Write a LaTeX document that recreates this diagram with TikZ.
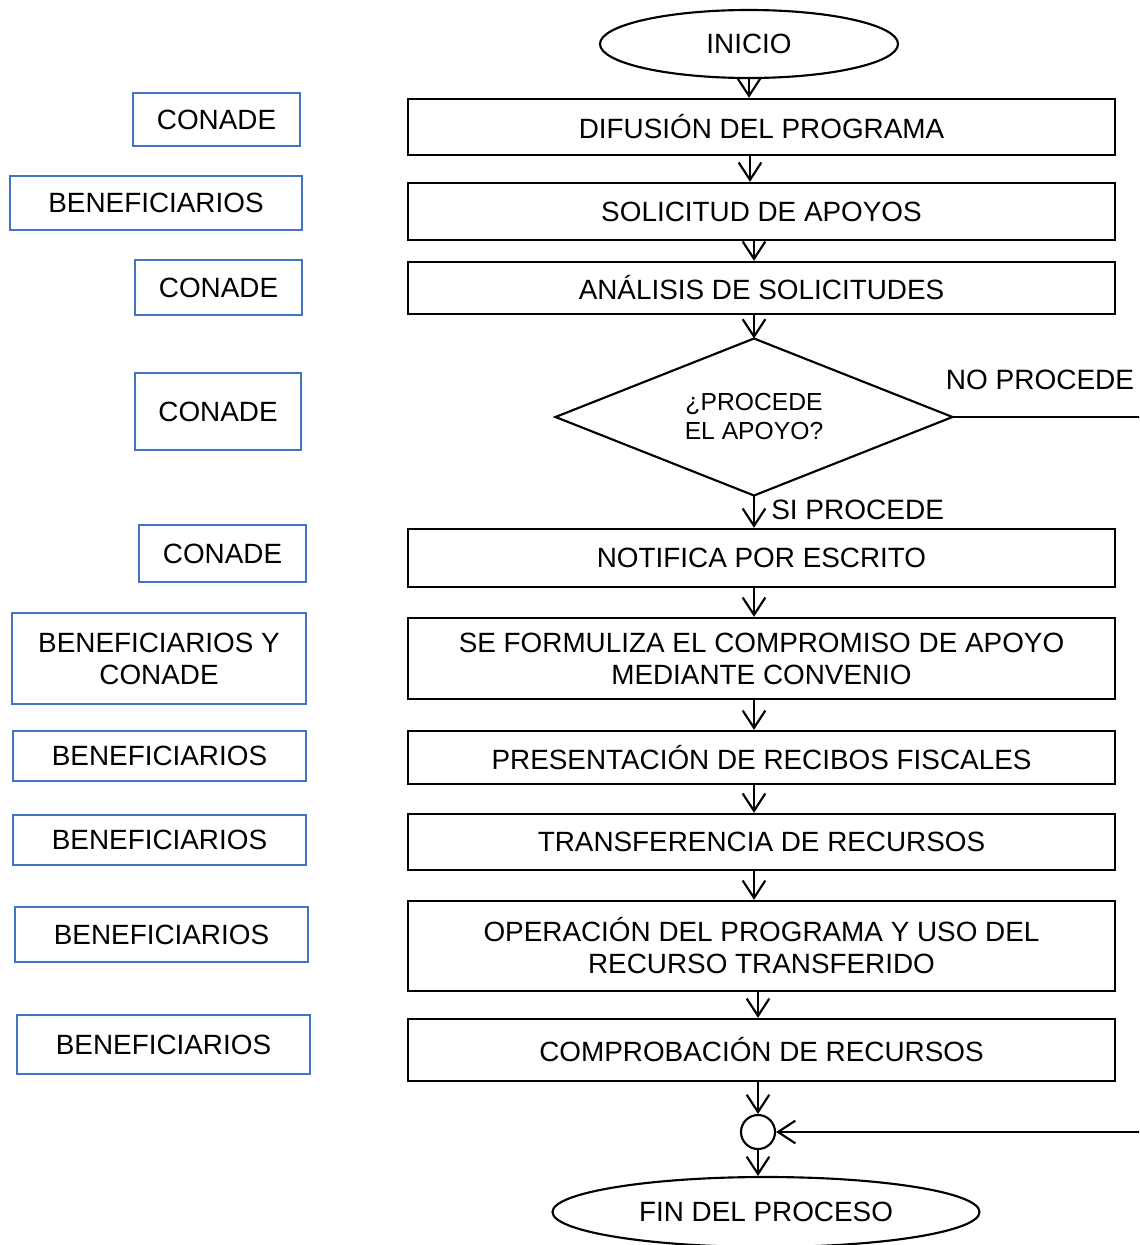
\documentclass[tikz,border=0pt]{standalone}
\usepackage{fontspec}
\setmainfont{Liberation Sans}
\usetikzlibrary{shapes.geometric,arrows.meta}
\definecolor{lblue}{RGB}{68,114,196}
\begin{document}
\begin{tikzpicture}[x=0.75pt,y=-0.75pt,
  mainbox/.style={draw=black,line width=1.8pt,minimum width=530.25pt,inner sep=0pt,align=center,font=\fontsize{20.9}{24}\selectfont},
  sidebox/.style={draw=lblue,line width=1.5pt,inner sep=0pt,align=center,font=\fontsize{20.9}{24}\selectfont},
  term/.style={draw=black,line width=1.6pt,ellipse,inner sep=0pt,font=\fontsize{20.9}{24}\selectfont},
  arr/.style={line width=1.6pt,-{Straight Barb[length=13pt,width=17pt,line width=1.6pt]}},
  lbl/.style={font=\fontsize{21}{24}\selectfont,inner sep=0pt}]
\useasboundingbox (0,0) rectangle (1139,1245);
\clip (0,0) rectangle (1139,1245);
\fill[white] (0,0) rectangle (1139,1245);

% flow nodes
\node[term,minimum width=223.5pt,minimum height=51pt] (ini) at (749,44) {INICIO};
\node[mainbox,minimum height=42pt] (dif) at (761.5,127) {DIFUSIÓN DEL PROGRAMA};
\node[mainbox,minimum height=42.75pt] (sol) at (761.5,211.5) {SOLICITUD DE APOYOS};
\node[mainbox,minimum height=39pt] (ana) at (761.5,288) {ANÁLISIS DE SOLICITUDES};
\node[diamond,draw=black,line width=1.6pt,minimum width=297.75pt,minimum height=117.75pt,inner sep=0pt,outer sep=0pt] (dia) at (754,417) {};
\node[align=center,inner sep=0pt,font=\fontsize{18.5}{21.75}\selectfont] (diat) at (754,417) {¿PROCEDE\\EL APOYO?};
\node[mainbox,minimum height=43.5pt] (not) at (761.5,558) {NOTIFICA POR ESCRITO};
\node[mainbox,minimum height=60.75pt] (sef) at (761.5,658.5) {SE FORMULIZA EL COMPROMISO DE APOYO\\MEDIANTE CONVENIO};
\node[mainbox,minimum height=39.75pt] (pre) at (761.5,757.5) {PRESENTACIÓN DE RECIBOS FISCALES};
\node[mainbox,minimum height=42pt] (tra) at (761.5,842) {TRANSFERENCIA DE RECURSOS};
\node[mainbox,minimum height=67.5pt] (ope) at (761.5,946) {OPERACIÓN DEL PROGRAMA Y USO DEL\\RECURSO TRANSFERIDO};
\node[mainbox,minimum height=46.5pt] (com) at (761.5,1050) {COMPROBACIÓN DE RECURSOS};
\node[circle,draw=black,line width=1.6pt,minimum size=25.5pt,inner sep=0pt] (con) at (758,1132) {};
\node[term,minimum width=320.25pt,minimum height=52.5pt] (fin) at (766,1212) {FIN DEL PROCESO};

% side boxes
\node[sidebox,minimum width=125.25pt,minimum height=39.75pt] (l1) at (216.5,119.5) {CONADE};
\node[sidebox,minimum width=219pt,minimum height=40.5pt] (l2) at (156,203) {BENEFICIARIOS};
\node[sidebox,minimum width=125.25pt,minimum height=41.25pt] (l3) at (218.5,287.5) {CONADE};
\node[sidebox,minimum width=124.5pt,minimum height=57.75pt] (l4) at (218,411.5) {CONADE};
\node[sidebox,minimum width=125.25pt,minimum height=42.75pt] (l5) at (222.5,553.5) {CONADE};
\node[sidebox,minimum width=220.5pt,minimum height=68.25pt] (l6) at (159,658.5) {BENEFICIARIOS Y\\CONADE};
\node[sidebox,minimum width=219.75pt,minimum height=37.5pt] (l7) at (159.5,756) {BENEFICIARIOS};
\node[sidebox,minimum width=219.75pt,minimum height=37.5pt] (l8) at (159.5,840) {BENEFICIARIOS};
\node[sidebox,minimum width=219.75pt,minimum height=41.25pt] (l9) at (161.5,934.5) {BENEFICIARIOS};
\node[sidebox,minimum width=219.75pt,minimum height=44.25pt] (l10) at (163.5,1044.5) {BENEFICIARIOS};

% connectors
\draw[arr] (ini.south) -- (ini.south |- dif.north);
\draw[arr] (750,0 |- dif.south) -- (750,0 |- sol.north);
\draw[arr] (754,0 |- sol.south) -- (754,0 |- ana.north);
\draw[arr] (754,0 |- ana.south) -- (dia.north);
\draw[arr] (dia.south) -- (dia.south |- not.north);
\draw[arr] (754,0 |- not.south) -- (754,0 |- sef.north);
\draw[arr] (754,0 |- sef.south) -- (754,0 |- pre.north);
\draw[arr] (754,0 |- pre.south) -- (754,0 |- tra.north);
\draw[arr] (754,0 |- tra.south) -- (754,0 |- ope.north);
\draw[arr] (758,0 |- ope.south) -- (758,0 |- com.north);
\draw[arr] (con.north |- com.south) -- (con.north);
\draw[arr] (con.south) -- (con.south |- fin.north);
\coordinate (r1) at (1150,417);
\coordinate (r2) at (1150,1132);
\draw[arr] (dia.east) -- (r1) -- (r2) -- (con.east);

% labels
\node[lbl,anchor=center] (nop) at (1040,380) {NO PROCEDE};
\node[lbl,anchor=west] (sip) at (771,510) {SI PROCEDE};
\end{tikzpicture}
\end{document}
